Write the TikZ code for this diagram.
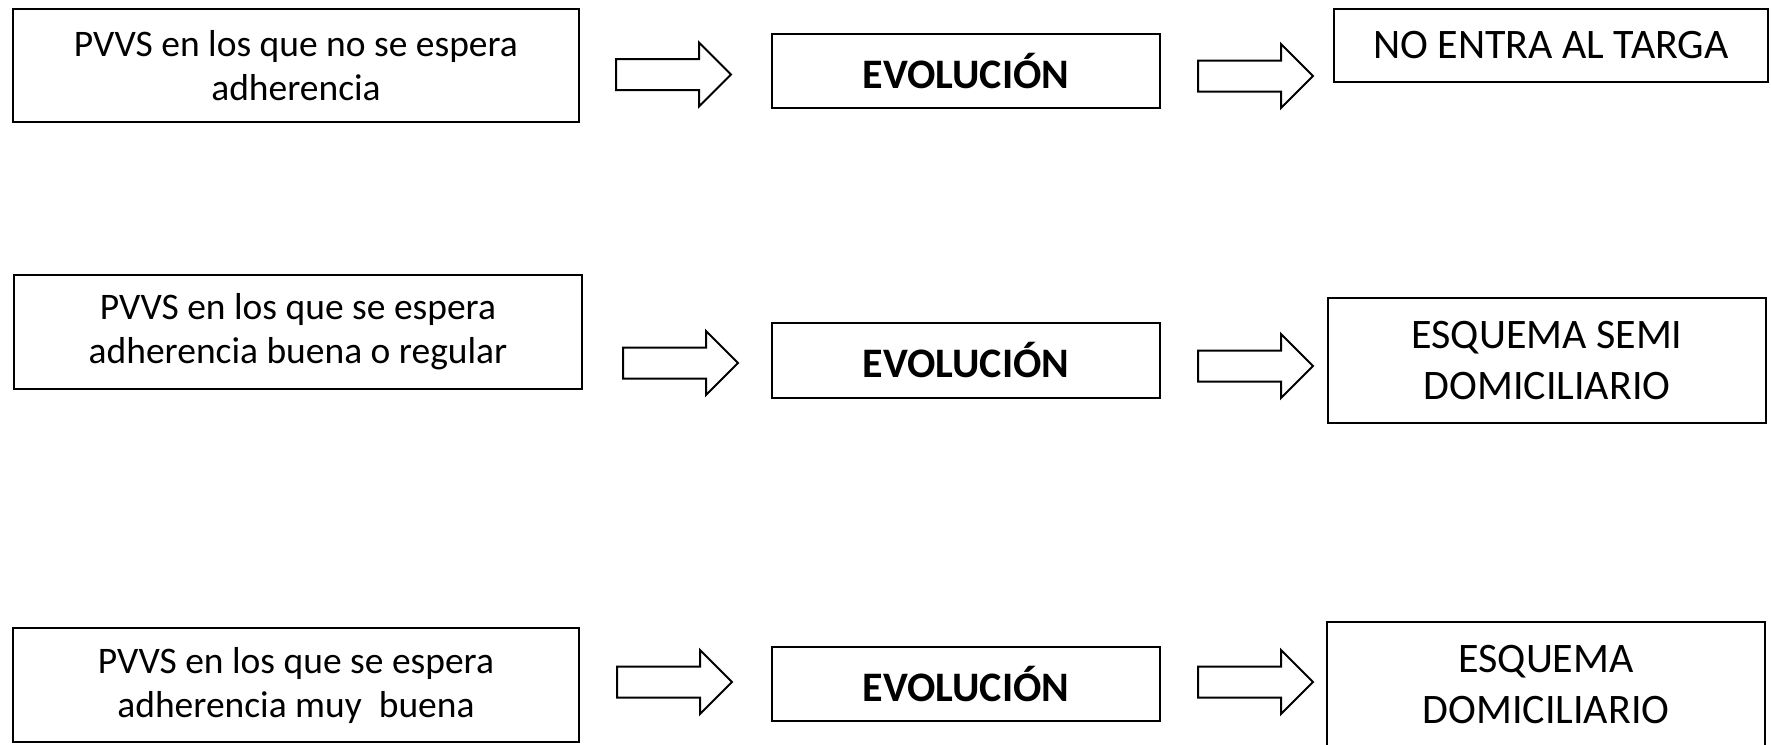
\documentclass[tikz,border=0pt]{standalone}
\usepackage{fontspec}
\setmainfont{Carlito}
\tikzset{
  box/.style={draw, line width=2pt, inner sep=0pt, align=center,
              font=\fontsize{37.5}{44}\selectfont},
  rbox/.style={box, font=\fontsize{42}{51}\selectfont},
  evobox/.style={box, font=\fontsize{42}{51}\selectfont\bfseries},
  barrow/.style={draw, line width=2pt, fill=white, line join=miter}
}
\newcommand\blockarr[2]{\draw[barrow] (#1,#2) ++(0,-15.5) -- ++(83,0) -- ++(0,-16.5) -- ++(32,32) -- ++(-32,32) -- ++(0,-16.5) -- ++(-83,0) -- cycle;}
\begin{document}
\begin{tikzpicture}[x=1pt,y=-1pt]
\useasboundingbox (0,0) rectangle (1771,744);
\clip (0,0) rectangle (1771,744);
% row 1
\node[box, minimum width=566pt, minimum height=113pt] (p1) at (296,65.5) {PVVS en los que no se espera\\adherencia};
\node[evobox, minimum width=388pt, minimum height=74pt] (e1) at (966,71) {EVOLUCIÓN};
\node[rbox, minimum width=434pt, minimum height=73pt] (r1) at (1551,45.5) {NO ENTRA AL TARGA};
\blockarr{616}{74.5}
\blockarr{1198}{76}
% row 2
\node[box, minimum width=568pt, minimum height=114pt] (p2) at (298,332) {PVVS en los que se espera\\adherencia buena o regular};
\node[evobox, minimum width=388pt, minimum height=75pt] (e2) at (966,360.5) {EVOLUCIÓN};
\node[rbox, minimum width=438pt, minimum height=125pt] (r2) at (1547,360.5) {ESQUEMA SEMI\\DOMICILIARIO};
\blockarr{623}{363}
\blockarr{1198}{366}
% row 3
\node[box, minimum width=566pt, minimum height=114pt] (p3) at (296,685) {PVVS en los que se espera\\adherencia muy\ \ buena};
\node[evobox, minimum width=388pt, minimum height=74pt] (e3) at (966,684) {EVOLUCIÓN};
\node[rbox, minimum width=438pt, minimum height=126pt] (r3) at (1546,685) {ESQUEMA\\DOMICILIARIO};
\blockarr{617}{682}
\blockarr{1198}{682}
\end{tikzpicture}
\end{document}
